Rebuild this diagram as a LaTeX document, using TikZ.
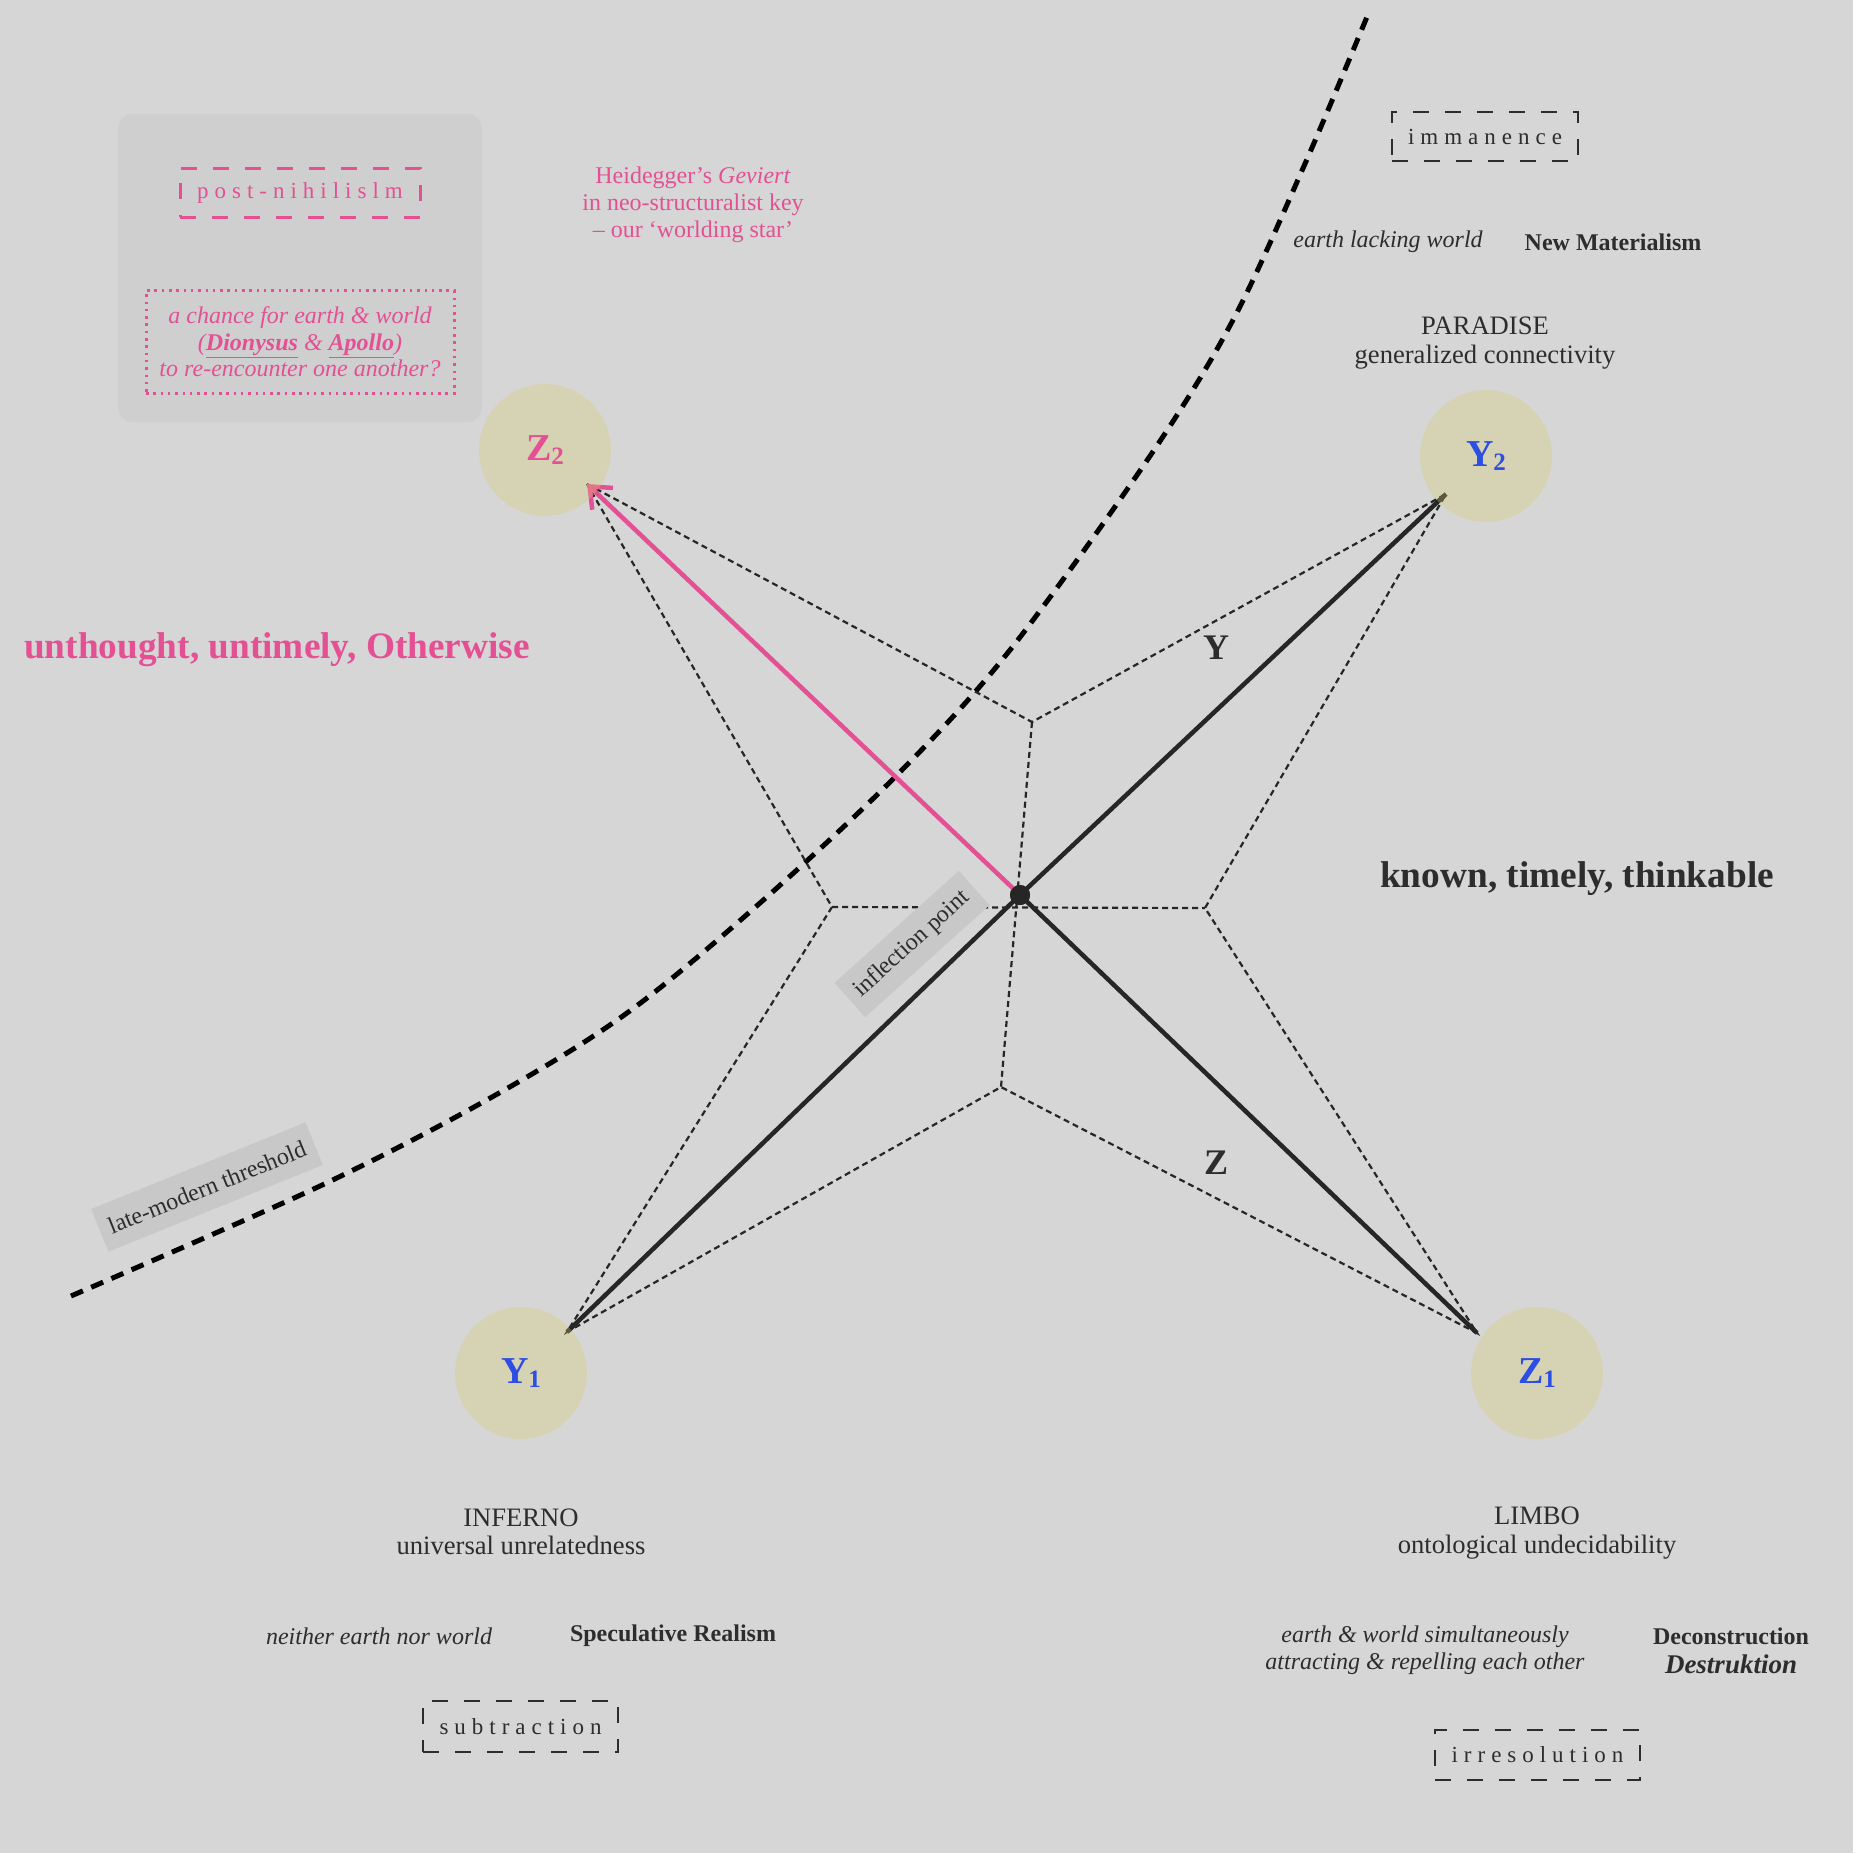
\documentclass[tikz,border=0pt]{standalone}
\usepackage{fontspec}
\setmainfont{Liberation Serif}
\usetikzlibrary{arrows.meta}
\definecolor{bg}{RGB}{214,214,214}
\definecolor{panel}{RGB}{207,207,207}
\definecolor{ink}{RGB}{45,45,45}
\definecolor{linec}{RGB}{38,38,38}
\definecolor{pinkc}{RGB}{228,80,148}
\definecolor{bluec}{RGB}{44,78,226}
\definecolor{circ}{RGB}{217,207,107}
\definecolor{tagbg}{RGB}{200,200,200}
\newcommand{\fsz}[2]{\fontsize{#1pt}{#2pt}\selectfont}
\newcommand{\sub}[1]{\raisebox{-0.1em}{\fsz{25}{25}#1}}
\tikzset{
  txt/.style={font=\fsz{24}{27}, text=ink, align=center, inner sep=0pt},
  bigtxt/.style={txt, font=\fsz{26.6}{28.5}},
  pinktxt/.style={txt, text=pinkc},
  hub/.style={circle, fill=circ, fill opacity=0.3, text opacity=1, minimum size=132pt, inner sep=0pt, font=\fsz{38}{38}\bfseries, text=bluec},
  solidline/.style={line width=4.5pt, draw=linec},
  pinkline/.style={line width=4.5pt, draw=pinkc},
  starline/.style={line width=2.2pt, draw=linec, dash pattern=on 6pt off 4pt},
  threshold/.style={line width=5pt, draw=black, dash pattern=on 13pt off 9pt},
  keybox/.style={draw=ink, line width=2.6pt, dash pattern=on 16pt off 16pt, inner sep=0pt, text=ink, font=\fsz{23}{23}\addfontfeature{LetterSpace=26}},
  tagbox/.style={fill=tagbg, text=ink, font=\fsz{24}{24}, inner xsep=10pt, minimum height=46pt},
  axislabel/.style={font=\fsz{36}{36}\bfseries, text=ink, inner sep=0pt},
}
\begin{document}
\begin{tikzpicture}[x=1pt, y=-1pt]
\useasboundingbox (0,0) rectangle (1859,1853);
\fill[white] (0,0) rectangle (1859,1853);
\fill[bg] (0,0) rectangle (1853,1853);

% top-left panel
\fill[panel, rounded corners=14pt] (118,114) rectangle (482,422);
\node[keybox, draw=pinkc, text=pinkc, minimum width=240pt, minimum height=49pt, line width=3pt] (pn) at (300,192.5) {post-nihilislm};
\node[pinktxt, draw=pinkc, line width=3pt, dash pattern=on 2.5pt off 4.8pt, minimum width=308pt, minimum height=103pt, font=\fsz{24}{26.5}\itshape] (chance) at (300,342)
  {a chance for earth \& world\\(\textbf{\underline{Dionysus}} \& \textbf{\underline{Apollo}})\\to re-encounter one another?};

\node[pinktxt] (heid) at (693,204.5) {Heidegger’s \textit{Geviert}\\in neo-structuralist key\\– our ‘worlding star’};

% top right
\node[keybox, minimum width=186pt, minimum height=49pt] (imm) at (1485,136.5) {immanence};
\node[txt, font=\fsz{24}{27}\itshape] (elw) at (1388,242) {earth lacking world};
\node[txt, font=\fsz{24}{27}\bfseries] (nm) at (1613,242) {New Materialism};
\node[bigtxt] (par) at (1485,343) {PARADISE\\generalized connectivity};

% side texts
\node[txt, anchor=west, text=pinkc, font=\fsz{37.3}{38}\bfseries] (unth) at (24,650) {unthought, untimely, Otherwise};
\node[txt, anchor=west, font=\fsz{37.3}{38}\bfseries] (known) at (1380,879) {known, timely, thinkable};

% threshold curve
\draw[threshold] plot[smooth, tension=0.55] coordinates {(71,1296) (320,1186) (492,1097) (627,1013) (760,903) (897,775) (1010,650) (1150,456) (1233,320) (1304,166) (1369,12)};

% star geometry
\coordinate (y1e) at (567,1332);
\coordinate (y2e) at (1446,494);
\coordinate (z1e) at (1477,1333);
\coordinate (z2e) at (587,484);
\coordinate (st) at (1032,722);
\coordinate (sl) at (832,907);
\coordinate (sr) at (1205,908);
\coordinate (sb) at (1001,1087);
\node[circle, fill=linec, minimum size=20pt, inner sep=0pt] (c) at (1020,895) {};

\draw[starline] (z2e) -- (st) -- (y2e) -- (sr) -- (z1e) -- (sb) -- (y1e) -- (sl) -- cycle;
\draw[starline] (st) -- (sb);
\draw[starline] (sl) -- (sr);

\draw[solidline] (c.center) -- (y1e);
\draw[solidline] (c.center) -- (y2e);
\draw[solidline] (c.center) -- (z1e);
\draw[pinkline, -{Straight Barb[length=18pt, width=30pt, line width=4.5pt]}] (c.center) -- (z2e);
\node[circle, fill=linec, minimum size=20pt, inner sep=0pt] (cdot) at (c) {};

% hubs
\node[hub] (Y1) at (521,1373) {Y\sub{1}};
\node[hub] (Y2) at (1486,456) {Y\sub{2}};
\node[hub] (Z1) at (1537,1373) {Z\sub{1}};
\node[hub, text=pinkc] (Z2) at (545,450) {Z\sub{2}};

\node[axislabel] (ylab) at (1216,648) {Y};
\node[axislabel] (zlab) at (1216,1163) {Z};

% tags
\node[tagbox, rotate=42] (infl) at (912,944) {inflection point};
\node[tagbox, rotate=22] (late) at (207,1187) {late-modern threshold};

% bottom left
\node[bigtxt] (inf) at (521,1532) {INFERNO\\universal unrelatedness};
\node[txt, font=\fsz{24}{27}\itshape] (nenw) at (379,1636) {neither earth nor world};
\node[txt, font=\fsz{24}{27}\bfseries] (sr2) at (673,1636) {Speculative Realism};
\node[keybox, minimum width=195pt, minimum height=51pt] (sub) at (520.5,1726.5) {subtraction};

% bottom right
\node[bigtxt] (limbo) at (1537,1533) {LIMBO\\ontological undecidability};
\node[txt, font=\fsz{24}{26.5}\itshape] (ew) at (1425,1650) {earth \& world simultaneously\\attracting \& repelling each other};
\node[txt, font=\fsz{24}{29}\bfseries] (dec) at (1731,1651) {Deconstruction\\{\fsz{27}{29}\itshape Destruktion}};
\node[keybox, minimum width=205pt, minimum height=50pt] (irr) at (1537.5,1755) {irresolution};
\end{tikzpicture}
\end{document}
